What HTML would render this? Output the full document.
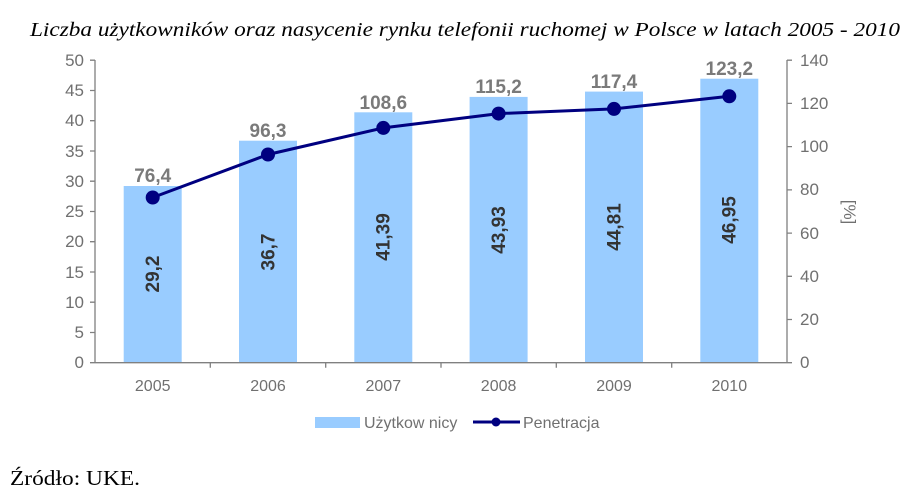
<!DOCTYPE html>
<html><head><meta charset="utf-8"><style>
html,body{margin:0;padding:0;background:#fff;}
svg{display:block;}
</style></head><body>
<svg width="914" height="493" xmlns="http://www.w3.org/2000/svg" font-family="Liberation Sans, Arial, sans-serif">
<text x="30" y="36" textLength="870" lengthAdjust="spacingAndGlyphs" font-family="Liberation Serif, serif" font-style="italic" font-size="20" fill="#000">Liczba użytkowników oraz nasycenie rynku telefonii ruchomej w Polsce w latach 2005 - 2010</text>
<g fill="#99ccff">
<rect x="123.7" y="186" width="58" height="176.7"/>
<rect x="239" y="140.7" width="58" height="222"/>
<rect x="354.3" y="112.3" width="58" height="250.4"/>
<rect x="469.6" y="96.9" width="58" height="265.8"/>
<rect x="585" y="91.6" width="58" height="271.1"/>
<rect x="700.3" y="78.7" width="58" height="284"/>
</g>
<g stroke="#808080" stroke-width="1.3" fill="none">
<line x1="95" y1="60" x2="95" y2="363"/>
<line x1="787" y1="60" x2="787" y2="363"/>
<line x1="90" y1="362.7" x2="792" y2="362.7"/>
<path d="M90 60.2h5M90 90.5h5M90 120.7h5M90 151h5M90 181.2h5M90 211.5h5M90 241.7h5M90 272h5M90 302.2h5M90 332.5h5"/>
<path d="M787 60.2h5M787 103.4h5M787 146.6h5M787 189.9h5M787 233.1h5M787 276.3h5M787 319.5h5"/>
<path d="M210.3 362.7v5M325.7 362.7v5M441 362.7v5M556.3 362.7v5M671.7 362.7v5"/>
</g>
<g font-size="17" fill="#707070" text-anchor="end">
<text x="84" y="66">50</text><text x="84" y="96">45</text><text x="84" y="126">40</text><text x="84" y="157">35</text><text x="84" y="187">30</text><text x="84" y="217">25</text><text x="84" y="247">20</text><text x="84" y="278">15</text><text x="84" y="308">10</text><text x="84" y="338">5</text><text x="84" y="368">0</text>
</g>
<g font-size="17" fill="#707070">
<text x="800" y="66">140</text><text x="800" y="109">120</text><text x="800" y="152">100</text><text x="800" y="195">80</text><text x="800" y="239">60</text><text x="800" y="282">40</text><text x="800" y="325">20</text><text x="800" y="368">0</text>
</g>
<text transform="translate(844,212) rotate(90)" font-size="17" fill="#707070" text-anchor="middle">[%]</text>
<g font-size="16" fill="#707070" text-anchor="middle">
<text x="152.7" y="391">2005</text><text x="268" y="391">2006</text><text x="383.3" y="391">2007</text><text x="498.6" y="391">2008</text><text x="614" y="391">2009</text><text x="729.3" y="391">2010</text>
</g>
<polyline points="152.7,197.5 268,154.5 383.3,127.9 498.6,113.6 614,108.9 729.3,96.3" fill="none" stroke="#000080" stroke-width="3"/>
<g fill="#000080">
<circle cx="152.7" cy="197.5" r="7"/><circle cx="268" cy="154.5" r="7"/><circle cx="383.3" cy="127.9" r="7"/><circle cx="498.6" cy="113.6" r="7"/><circle cx="614" cy="108.9" r="7"/><circle cx="729.3" cy="96.3" r="7"/>
</g>
<g font-size="19" font-weight="bold" fill="#7a7a7a" text-anchor="middle">
<text x="152.7" y="182">76,4</text><text x="268" y="137">96,3</text><text x="383.3" y="109">108,6</text><text x="498.6" y="93">115,2</text><text x="614" y="88">117,4</text><text x="729.3" y="75">123,2</text>
</g>
<g font-size="19" font-weight="bold" fill="#333" text-anchor="middle">
<text transform="translate(159,274) rotate(-90)">29,2</text>
<text transform="translate(274.3,252) rotate(-90)">36,7</text>
<text transform="translate(389.6,237) rotate(-90)">41,39</text>
<text transform="translate(504.9,230) rotate(-90)">43,93</text>
<text transform="translate(620.3,227) rotate(-90)">44,81</text>
<text transform="translate(735.6,220) rotate(-90)">46,95</text>
</g>
<rect x="315" y="417" width="45" height="11" fill="#99ccff"/>
<text x="364" y="428" font-size="16" fill="#707070">Użytkow nicy</text>
<line x1="473" y1="422" x2="520" y2="422" stroke="#000080" stroke-width="3"/>
<circle cx="496" cy="422" r="4.5" fill="#000080"/>
<text x="523" y="428" font-size="16" fill="#707070">Penetracja</text>
<text x="10" y="485" textLength="130" lengthAdjust="spacingAndGlyphs" font-family="Liberation Serif, serif" font-size="21" fill="#000">Źródło: UKE.</text>
</svg>
</body></html>
